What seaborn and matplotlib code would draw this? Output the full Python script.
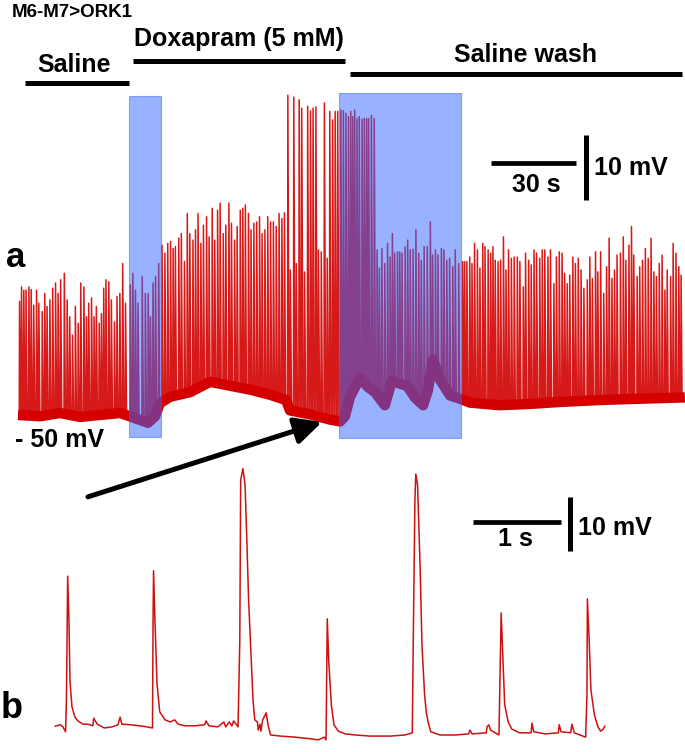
import numpy as np
import pandas as pd
import seaborn as sns
import matplotlib.pyplot as plt
from matplotlib.patches import Rectangle


# ---- panel a: long recording (time in s, membrane potential in mV) ----
# spike peaks, split by the three conditions
saline_t = [0.4, 1.1, 1.9, 2.7, 3.7, 4.5, 5.4, 6.4, 7.2, 8.4, 9.3, 10.1, 11.1, 12.1,
            13.1, 14.0, 14.9, 16.2, 17.2, 18.1, 19.1, 20.1, 21.1, 22.0, 23.1, 24.0,
            24.8, 25.8, 26.7, 27.5, 28.5, 29.3, 30.1, 30.9, 31.9, 32.8, 33.9, 34.8,
            35.8, 36.8, 37.8]
saline_mv = [-32.8, -30.6, -31.1, -31.1, -30.6, -31.0, -33.4, -31.1, -33.1, -34.4,
             -31.6, -33.6, -32.6, -30.8, -30.0, -31.6, -29.5, -28.5, -32.6, -35.2,
             -38.0, -33.6, -36.2, -30.0, -30.6, -35.2, -33.1, -32.3, -35.2, -33.6,
             -36.2, -34.7, -30.8, -29.5, -29.8, -32.6, -36.0, -32.1, -31.6, -27.0,
             -33.1]

doxa_t = [39.5, 40.4, 41.3, 42.2, 43.7, 44.8, 45.8, 46.6, 47.5, 48.4, 49.5, 50.7,
          51.7, 52.7, 53.7, 54.6, 55.4, 56.6, 57.5, 58.6, 59.6, 60.5, 61.6, 62.5,
          63.4, 64.4, 65.3, 66.4, 67.3, 68.4, 69.3, 70.3, 71.2, 72.3, 73.2, 74.3,
          75.2, 76.3, 77.2, 78.3, 79.2, 80.1, 81.2, 82.1, 83.1, 84.1, 85.1, 86.0,
          87.0, 88.0, 89.0, 90.0, 91.0, 92.0, 93.0, 93.9, 95.1, 96.0, 97.2, 98.1,
          99.1, 100.0, 101.0, 102.1, 103.1, 104.0, 105.0, 105.9, 106.9, 108.0,
          109.0, 109.9, 110.9, 111.8, 112.7, 113.8, 114.7]
doxa_mv = [-30.3, -28.5, -31.1, -33.1, -29.0, -31.6, -31.6, -35.2, -30.0, -29.0,
           -27.0, -24.2, -25.4, -23.9, -23.6, -24.7, -24.4, -23.1, -22.4, -26.7,
           -19.3, -22.4, -23.4, -21.8, -19.3, -23.9, -21.1, -19.8, -22.9, -18.5,
           -23.4, -18.8, -17.7, -22.4, -21.1, -17.7, -20.8, -23.4, -21.3, -18.8,
           -18.5, -18.0, -19.3, -21.8, -20.8, -20.6, -19.8, -22.4, -21.8, -19.8,
           -20.6, -20.6, -21.3, -19.3, -20.1, -19.2, -1.1, -28.0, -1.4, -27.0,
           -1.8, -3.1, -28.3, -2.8, -3.5, -3.1, -2.9, -24.9, -25.2, -2.3,
           -26.2, -3.6, -4.9, -3.6, -3.6, -3.4, -3.5]

wash_t = [115.6, 116.5, 117.3, 118.0, 118.7, 119.5, 120.3, 121.3, 122.1, 122.9,
          123.6, 124.6, 125.6,
          126.6, 127.4, 128.3, 129.3, 130.3, 131.2, 132.0, 132.8, 133.8, 134.6,
          135.4, 136.5, 137.4, 138.3, 139.3, 140.3, 141.3, 142.2, 143.2, 144.3,
          145.4, 146.2, 147.2, 148.1, 149.3, 150.2, 151.2, 152.2, 153.3, 154.2,
          155.4,
          156.8, 157.5, 158.3, 159.3, 160.1, 161.0, 162.0, 162.9, 163.9, 164.7,
          165.8, 166.7, 167.5, 168.3, 169.3, 170.2, 171.2, 172.1, 173.0, 174.0,
          175.0,
          176.1, 177.0, 178.2, 179.0, 180.1, 181.0, 182.0, 182.9, 184.0, 184.9,
          185.8, 186.9, 187.8, 189.0, 189.9, 190.9, 191.9, 192.8, 193.7, 194.6,
          195.7, 196.6, 197.6, 198.6, 199.6, 200.8, 201.7, 202.6, 203.7, 204.5,
          205.5, 206.6, 207.6, 208.5, 209.5, 210.4, 211.3, 212.5, 213.5, 214.4,
          215.5, 216.4, 217.2, 218.4, 219.3, 220.3, 221.3, 222.3, 223.3, 224.3,
          225.2, 226.2, 227.2, 228.2, 229.0, 230.2, 231.1, 232.1, 233.1, 233.9]
wash_mv = [-3.9, -4.4, -3.6, -4.4, -3.4, -4.7, -4.4, -4.8, -4.7, -4.7,
           -4.7, -4.2, -4.7,
           -24.9, -27.7, -24.7, -27.0, -23.9, -26.0, -22.4, -25.4, -25.2, -25.2,
           -25.4, -24.4, -23.4, -24.9, -24.8, -21.8, -25.4, -26.5, -24.4, -24.4,
           -20.6, -25.7, -24.9, -25.7, -24.7, -24.9, -26.5, -26.2, -27.5, -24.9,
           -27.0,
           -26.7, -26.7, -26.7, -26.0, -27.0, -23.9, -24.9, -27.7, -23.9, -24.4,
           -24.9, -25.4, -24.4, -26.5, -26.7, -26.5, -22.9, -28.0, -24.9, -26.2,
           -26.0,
           -26.0, -26.7, -30.6, -25.4, -26.5, -27.2, -24.9, -25.4, -26.2, -24.9,
           -24.9, -26.0, -24.9, -30.1, -26.0, -25.2, -25.4, -28.5, -30.1, -28.8,
           -26.0, -27.0, -26.2, -28.0, -30.8, -29.5, -26.0, -29.3, -25.2, -28.3,
           -25.2, -31.6, -27.5, -23.1, -29.3, -28.0, -25.7, -25.4, -22.9, -26.5,
           -24.2, -21.3, -25.7, -29.0, -27.5, -26.5, -24.7, -26.2, -23.1, -28.3,
           -29.0, -27.0, -25.7, -31.1, -28.0, -29.0, -23.9, -25.4, -27.5, -28.8]

# slow drift of the resting potential between spikes
base_t = [0.0, 7.8, 14.8, 21.9, 28.9, 36.0, 38.8, 41.3, 45.9, 48.4, 50.1, 53.7,
          60.7, 67.8, 74.8, 81.9, 89.0, 94.6, 96.0, 103.0, 110.0, 113.7, 115.4,
          117.2, 120.7, 123.5, 126.0, 129.5, 132.0, 134.8, 137.3, 140.1, 143.0,
          144.7, 146.5, 149.0, 152.5, 156.0, 159.5, 170.0, 180.7, 191.3, 205.4,
          219.6, 235.4]
base_mv = [-50.3, -50.5, -50.0, -50.6, -50.3, -50.0, -50.4, -50.8, -51.5, -50.5,
           -48.5, -47.5, -46.8, -45.2, -45.8, -46.4, -47.2, -48.0, -49.6, -50.2,
           -51.0, -51.3, -50.5, -47.5, -44.6, -46.0, -46.8, -48.8, -45.0, -45.5,
           -45.8, -47.6, -48.8, -46.5, -41.8, -44.9, -47.3, -47.8, -48.4, -48.8,
           -48.6, -48.3, -48.0, -47.8, -47.6]

# the two windows shown in blue
win_start = [39.3, 113.4]
win_end = [50.5, 156.3]
win_low = [-53.7, -53.8]
win_high = [-1.2, -0.8]

cond_labels = ['Saline', 'Doxapram (5 mM)', 'Saline wash']
cond_start = [2.5, 40.6, 117.2]
cond_end = [39.2, 115.4, 234.4]

# ---- panel b: expanded view (time in s, mV above rest) ----
b_t = [0.00, 0.06, 0.09, 0.12, 0.13, 0.144, 0.159, 0.17, 0.193, 0.227,
       0.26, 0.32, 0.375, 0.43, 0.44, 0.48, 0.56, 0.65, 0.716, 0.74,
       0.76, 0.85, 0.966, 1.045, 1.108, 1.114, 1.12, 1.136, 1.16, 1.19,
       1.25, 1.31, 1.36, 1.40, 1.48, 1.59, 1.70, 1.716, 1.75, 1.85,
       1.92, 1.94, 1.98, 2.01, 2.03, 2.08, 2.10, 2.11, 2.136, 2.16,
       2.18, 2.20, 2.23, 2.25, 2.27, 2.30, 2.31, 2.33, 2.34, 2.36,
       2.40, 2.42, 2.45, 2.56, 2.73, 2.90, 2.99, 3.06, 3.08, 3.09,
       3.094, 3.11, 3.14, 3.17, 3.22, 3.30, 3.41, 3.58, 3.81, 3.98,
       4.06, 4.07, 4.09, 4.10, 4.12, 4.15, 4.17, 4.20, 4.22, 4.24,
       4.27, 4.375, 4.55, 4.70, 4.716, 4.74, 4.90, 4.91, 4.93, 4.95,
       5.045, 5.06, 5.07, 5.09, 5.11, 5.15, 5.19, 5.28, 5.41, 5.42,
       5.44, 5.57, 5.72, 5.73, 5.75, 5.86, 5.875, 5.90, 6.03, 6.045,
       6.05, 6.07, 6.09, 6.13, 6.17, 6.20, 6.23, 6.25]
b_mv = [1.6, 1.9, 1.5, 0.6, 6.5, 29.4, 21.0, 10.0, 5.2, 3.3,
        2.6, 2.0, 2.0, 1.7, 3.1, 2.0, 1.3, 1.5, 1.9, 3.3,
        2.0, 1.9, 1.7, 1.5, 1.3, 21.0, 30.4, 21.0, 9.3, 4.3,
        2.8, 2.4, 2.8, 2.0, 1.7, 1.7, 1.9, 2.6, 1.7, 1.5,
        2.4, 1.5, 2.4, 1.7, 2.6, 1.5, 17.6, 47.2, 49.3, 46.3,
        36.0, 25.0, 13.9, 6.5, 2.8, 2.4, 0.9, 2.0, 0.7, 2.8,
        4.1, 1.9, 0.0, -0.2, -0.4, -0.7, -0.9, -0.4, -0.9, 13.9,
        21.5, 13.9, 5.6, 1.9, 0.7, 0.2, 0.0, -0.2, -0.2, 0.0,
        0.4, 15.7, 43.5, 48.3, 46.3, 30.6, 16.7, 7.4, 4.1, 2.4,
        0.6, 0.0, 0.0, 0.2, 0.9, 0.2, 0.4, 1.5, 1.9, 0.9,
        0.0, 13.9, 22.6, 13.9, 5.6, 2.4, 1.1, 0.4, 0.4, 2.2,
        0.6, 0.2, 0.4, 1.9, 0.6, 0.4, 2.0, 0.4, -0.4, 7.4,
        25.2, 17.6, 8.3, 3.7, 1.5, 0.7, 1.1, 1.7]


# Set colors
trace_red = '#d40000'
spike_red = '#d61a1a'
window_blue = '#3366ff'

sns.set_theme(style='white')
plt.rcParams['font.family'] = ['Liberation Sans', 'DejaVu Sans']
label_font = {'fontsize': 18, 'fontweight': 'bold', 'color': 'black'}

fig = plt.figure(figsize=(6.85, 7.52), dpi=100)
ax_a = fig.add_axes([0, 292 / 752, 1, 460 / 752])
ax_b = fig.add_axes([0, 0, 1, 292 / 752])
ax_b.set_facecolor('none')

# ---------- panel a ----------
spike_t = saline_t + doxa_t + wash_t
spike_mv = saline_mv + doxa_mv + wash_mv
rows = []
for t, mv in zip(spike_t, spike_mv):
    rows += [(t, -55.0), (t + 0.15, mv), (t + 0.65, -55.0)]
spikes = pd.DataFrame(rows, columns=['t', 'mv'])
sns.lineplot(data=spikes, x='t', y='mv', sort=False, estimator=None,
             color=spike_red, linewidth=1.1, ax=ax_a, zorder=1)

# hide the spike feet below the resting trace, then draw the noisy baseline band
x0, x1 = -18 / 2.833, 667 / 2.833
ax_a.fill_between([x0] + base_t, [base_mv[0]] + base_mv, -60,
                  color='white', linewidth=0, zorder=2)
sns.lineplot(x=base_t, y=base_mv, sort=False, estimator=None,
             color=trace_red, linewidth=7.5, ax=ax_a, zorder=3,
             solid_capstyle='butt')

for t0, t1, lo, hi in zip(win_start, win_end, win_low, win_high):
    ax_a.add_patch(Rectangle((t0, lo), t1 - t0, hi - lo, facecolor=window_blue,
                             edgecolor=window_blue, linewidth=0.8, alpha=0.5, zorder=4))

# condition bars
bar_y = [0.7, 4.2, 2.15]
text_x = [19.9, 78.0, 179.0]
text_y = [2.5, 6.4, 4.0]
for lab, s, e, by, tx, ty in zip(cond_labels, cond_start, cond_end, bar_y, text_x, text_y):
    ax_a.plot([s, e], [by, by], color='black', linewidth=3.6, solid_capstyle='butt')
    ax_a.text(tx, ty, lab, ha='center', va='baseline', **label_font)

ax_a.text(-2.1, 10.9, 'M6-M7>ORK1', ha='left', va='baseline',
          fontsize=13.5, fontweight='bold', color='black')
ax_a.text(-0.7, -27.5, 'a', ha='center', va='baseline',
          fontsize=25, fontweight='bold', color='black')
ax_a.text(14.8, -55.2, '- 50 mV', ha='center', va='baseline', zorder=6, **label_font)

# scale bar a: 30 s, 10 mV
ax_a.plot([167.0, 197.0], [-11.5, -11.5], color='black', linewidth=3.4, solid_capstyle='butt')
ax_a.plot([200.5, 200.5], [-17.3, -7.3], color='black', linewidth=3.6, solid_capstyle='butt')
ax_a.text(182.8, -15.95, '30 s', ha='center', va='baseline', **label_font)
ax_a.text(203.3, -13.4, '10 mV', ha='left', va='baseline', **label_font)

# arrow pointing at the expanded stretch
ax_a.annotate('', xy=(107.3, -51.4), xytext=(24.7, -62.9), annotation_clip=False,
              arrowprops=dict(arrowstyle='-|>,head_length=0.9,head_width=0.45',
                              color='black', linewidth=3.6, mutation_scale=18,
                              shrinkA=0, shrinkB=0), zorder=6)

ax_a.set_xlim(x0, x1)
ax_a.set_ylim(-57.23, 13.54)
ax_a.set_axis_off()

# ---------- panel b ----------
sns.lineplot(x=b_t, y=b_mv, sort=False, estimator=None,
             color='#cc1111', linewidth=1.1, ax=ax_b)

ax_b.plot([4.75, 5.75], [39.4, 39.4], color='black', linewidth=3.4, solid_capstyle='butt')
ax_b.plot([5.85, 5.85], [34.1, 44.1], color='black', linewidth=3.6, solid_capstyle='butt')
ax_b.text(5.23, 34.9, '1 s', ha='center', va='baseline', **label_font)
ax_b.text(5.94, 37.0, '10 mV', ha='left', va='baseline', **label_font)
ax_b.text(-0.49, 3.15, 'b', ha='center', va='baseline',
          fontsize=26, fontweight='bold', color='black')

ax_b.set_xlim(-55 / 88, 630 / 88)
ax_b.set_ylim(-3.15, 50.9)
ax_b.set_axis_off()

plt.savefig('out.png', dpi=100)
